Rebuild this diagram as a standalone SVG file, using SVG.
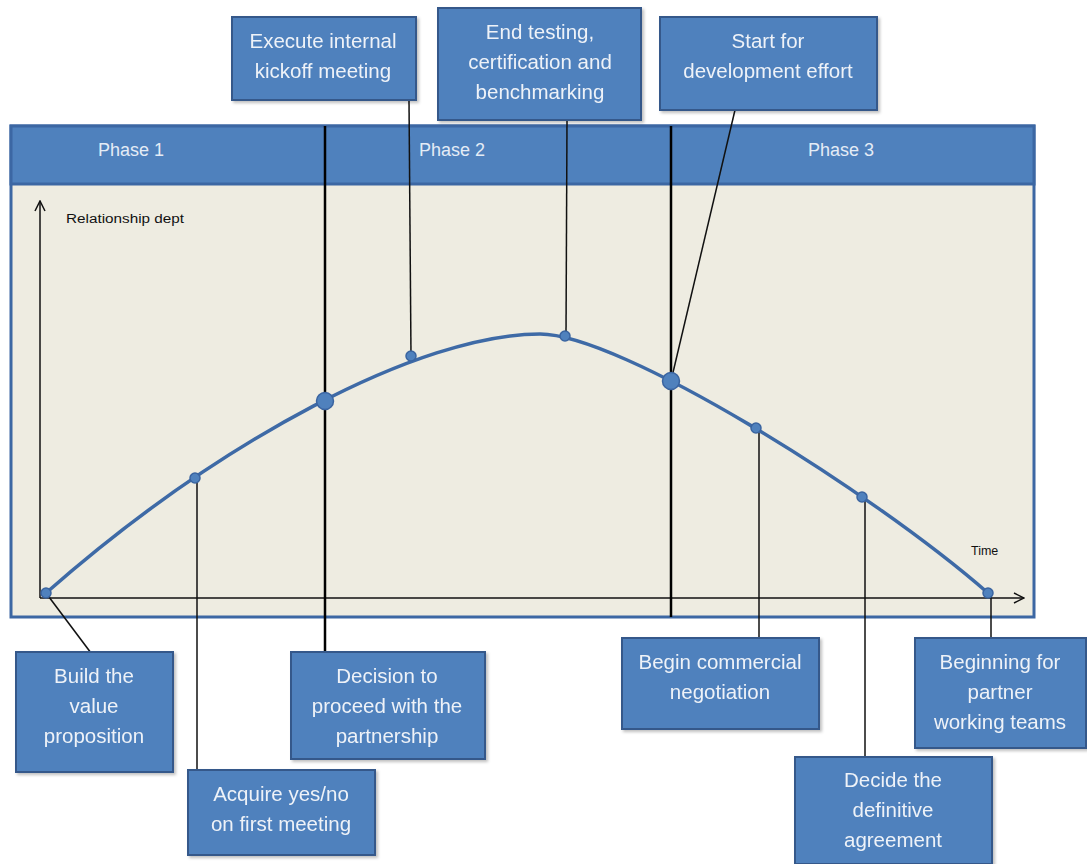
<svg xmlns="http://www.w3.org/2000/svg" width="1087" height="864" viewBox="0 0 1087 864">
<style>
.box{fill:#4f81bd;stroke:#36598a;stroke-width:2}
.bt{font-family:"Liberation Sans",Arial,sans-serif;font-size:20.5px;fill:#eef2f8;text-anchor:middle}
.ph{font-family:"Liberation Sans",Arial,sans-serif;font-size:18px;fill:#e4ecf6;text-anchor:middle}
.ax{font-family:"Liberation Sans",Arial,sans-serif;font-size:12.5px;fill:#111}
.conn{stroke:#111;stroke-width:1.5;fill:none}
.div{stroke:#000;stroke-width:2.5;fill:none}
.dot{fill:#4f81bd;stroke:#3a64a0;stroke-width:1.5}
</style>
<defs>
<marker id="arr" viewBox="0 0 12 12" refX="11" refY="6" markerWidth="12" markerHeight="12" markerUnits="userSpaceOnUse" orient="auto">
<path d="M1,1 L11,6 L1,11" fill="none" stroke="#111" stroke-width="1.5"/>
</marker>
<filter id="sh" x="-10%" y="-10%" width="125%" height="125%">
<feDropShadow dx="2" dy="2" stdDeviation="1.5" flood-color="#000" flood-opacity="0.25"/>
</filter>
</defs>
<rect width="1087" height="864" fill="#ffffff"/>
<g id="frame">
<rect x="11" y="126" width="1023" height="491" fill="#eeece1" stroke="#3c67a3" stroke-width="3"/>
<rect x="11" y="126" width="1023" height="58" fill="#4f81bd" stroke="#3c67a3" stroke-width="3"/>
<text class="ph" x="131" y="156">Phase 1</text>
<text class="ph" x="452" y="156">Phase 2</text>
<text class="ph" x="841" y="156">Phase 3</text>
</g>
<g id="axes">
<line x1="40" y1="598" x2="40" y2="201" class="conn" marker-end="url(#arr)"/>
<line x1="40" y1="598" x2="1024" y2="598" class="conn" marker-end="url(#arr)"/>
<text class="ax" x="66" y="223" textLength="118" lengthAdjust="spacingAndGlyphs">Relationship dept</text>
<text class="ax" x="971" y="555">Time</text>
</g>
<g id="connectors">
<line class="div" x1="325" y1="126" x2="325" y2="653"/>
<line class="div" x1="671" y1="126" x2="671" y2="617"/>
<line class="conn" x1="46" y1="593" x2="91" y2="653"/>
<line class="conn" x1="197" y1="478" x2="197" y2="771"/>
<line class="conn" x1="411" y1="356" x2="409" y2="100"/>
<line class="conn" x1="566" y1="337" x2="567" y2="120"/>
<line class="conn" x1="671" y1="381" x2="735" y2="110"/>
<line class="conn" x1="759" y1="428" x2="759" y2="639"/>
<line class="conn" x1="865" y1="498" x2="865" y2="758"/>
<line class="conn" x1="991" y1="593" x2="991" y2="639"/>
</g>
<g id="curve">
<path d="M46,593 C220,440 420,334 540,334 C620,334 870,490 988,593" fill="none" stroke="#3e6aa6" stroke-width="3.5"/>
<circle class="dot" cx="46" cy="593" r="5"/>
<circle class="dot" cx="195" cy="478" r="5"/>
<circle class="dot" cx="325" cy="401" r="8.5"/>
<circle class="dot" cx="411" cy="356" r="5"/>
<circle class="dot" cx="565" cy="336" r="5"/>
<circle class="dot" cx="671" cy="381" r="8.5"/>
<circle class="dot" cx="756" cy="428" r="5"/>
<circle class="dot" cx="862" cy="497" r="5"/>
<circle class="dot" cx="988" cy="593" r="5"/>
</g>
<g id="n-execute" filter="url(#sh)">
<rect class="box" x="232" y="17" width="184" height="83"/>
<text class="bt" x="323" y="48">Execute internal</text>
<text class="bt" x="323" y="78">kickoff meeting</text>
</g>
<g id="n-endtesting" filter="url(#sh)">
<rect class="box" x="438" y="8" width="203" height="112"/>
<text class="bt" x="540" y="39">End testing,</text>
<text class="bt" x="540" y="69">certification and</text>
<text class="bt" x="540" y="99">benchmarking</text>
</g>
<g id="n-start" filter="url(#sh)">
<rect class="box" x="660" y="17" width="217" height="93"/>
<text class="bt" x="768" y="48">Start for</text>
<text class="bt" x="768" y="78">development effort</text>
</g>
<g id="n-build" filter="url(#sh)">
<rect class="box" x="16" y="652" width="157" height="120"/>
<text class="bt" x="94" y="683">Build the</text>
<text class="bt" x="94" y="713">value</text>
<text class="bt" x="94" y="743">proposition</text>
</g>
<g id="n-acquire" filter="url(#sh)">
<rect class="box" x="188" y="770" width="187" height="85"/>
<text class="bt" x="281" y="801">Acquire yes/no</text>
<text class="bt" x="281" y="831">on first meeting</text>
</g>
<g id="n-decision" filter="url(#sh)">
<rect class="box" x="291" y="652" width="194" height="107"/>
<text class="bt" x="387" y="683">Decision to</text>
<text class="bt" x="387" y="713">proceed with the</text>
<text class="bt" x="387" y="743">partnership</text>
</g>
<g id="n-begin" filter="url(#sh)">
<rect class="box" x="622" y="638" width="197" height="91"/>
<text class="bt" x="720" y="669">Begin commercial</text>
<text class="bt" x="720" y="699">negotiation</text>
</g>
<g id="n-beginning" filter="url(#sh)">
<rect class="box" x="915" y="638" width="171" height="110"/>
<text class="bt" x="1000" y="669">Beginning for</text>
<text class="bt" x="1000" y="699">partner</text>
<text class="bt" x="1000" y="729">working teams</text>
</g>
<g id="n-decide" filter="url(#sh)">
<rect class="box" x="795" y="757" width="197" height="107"/>
<text class="bt" x="893" y="787">Decide the</text>
<text class="bt" x="893" y="817">definitive</text>
<text class="bt" x="893" y="847">agreement</text>
</g>
</svg>
